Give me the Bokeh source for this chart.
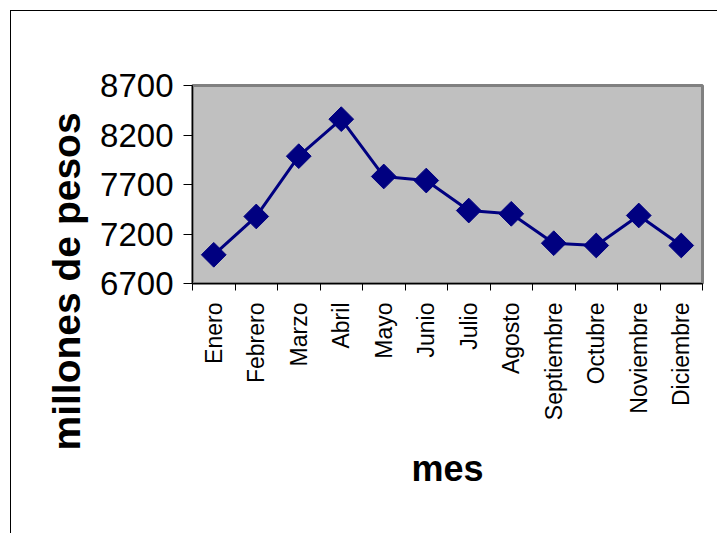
import math
from bokeh.plotting import figure
from bokeh.models import (Range1d, FixedTicker, Title, CustomJSTickFormatter,
                          InlineStyleSheet)
from bokeh.embed import file_html
from bokeh.resources import INLINE

meses = ["Enero", "Febrero", "Marzo", "Abril", "Mayo", "Junio", "Julio",
         "Agosto", "Septiembre", "Octubre", "Noviembre", "Diciembre"]
valores = [6990, 7377, 7986, 8360, 7781, 7740, 7437, 7404, 7107, 7084, 7387, 7084]
y_ticks = [6700, 7200, 7700, 8200, 8700]
titulo_x = "mes"
titulo_y = "millones de pesos"

x = [i + 0.5 for i in range(len(meses))]

p = figure(width=709, height=525, output_backend="svg", toolbar_location=None,
           x_range=Range1d(0, len(meses)), y_range=Range1d(y_ticks[0], y_ticks[-1]),
           min_border_left=192, min_border_right=7, min_border_top=85,
           min_border_bottom=242)

p.background_fill_color = "#C0C0C0"
p.border_fill_alpha = 0
p.outline_line_color = "#808080"
p.outline_line_width = 3
p.xgrid.visible = False
p.ygrid.visible = False
css = """
:host { background: white; box-shadow: inset 10px 10px 0 0 white, inset 11px 11px 0 0 black; }
:host::after { content: ""; position: fixed; left: 10px; top: 10px; right: 0; bottom: 0;
  border-left: 1px solid black; border-top: 1px solid black; pointer-events: none; }
"""
p.stylesheets = [InlineStyleSheet(css=css)]

# y axis
p.yaxis.ticker = FixedTicker(ticks=y_ticks)
p.yaxis.major_tick_out = 9
p.yaxis.major_tick_in = 0
p.yaxis.minor_tick_out = 0
p.yaxis.axis_line_color = "black"
p.yaxis.major_tick_line_color = "black"
p.yaxis.major_label_standoff = 10
p.yaxis.major_label_text_font = "Liberation Sans"
p.yaxis.major_label_text_font_size = "33px"
p.yaxis.major_label_text_color = "black"

# x axis
p.xaxis.ticker = FixedTicker(ticks=x, minor_ticks=list(range(len(meses) + 1)))
p.xaxis.formatter = CustomJSTickFormatter(args=dict(labels=meses),
                                          code="return labels[Math.floor(tick)];")
p.xaxis.major_tick_out = 0
p.xaxis.major_tick_in = 0
p.xaxis.minor_tick_out = 7
p.xaxis.minor_tick_in = 0
p.xaxis.minor_tick_line_color = "black"
p.xaxis.axis_line_color = "black"
p.xaxis.major_label_orientation = math.pi / 2
p.xaxis.major_label_standoff = 12
p.xaxis.major_label_text_font = "Liberation Sans"
p.xaxis.major_label_text_font_size = "23px"
p.xaxis.major_label_text_color = "black"
p.xaxis.axis_label = titulo_x
p.xaxis.axis_label_text_font = "Liberation Sans"
p.xaxis.axis_label_text_font_style = "bold"
p.xaxis.axis_label_text_font_size = "36px"
p.xaxis.axis_label_text_color = "black"
p.xaxis.axis_label_standoff = 25

p.line(x, valores, line_color="#000080", line_width=3)
p.scatter(x, valores, marker="square", angle=math.pi / 4, size=17.5,
          fill_color="#000080", line_color="#000080")

p.add_layout(Title(text=titulo_y, align="left", offset=-167, standoff=20,
                   text_font="Liberation Sans", text_font_style="bold",
                   text_font_size="39px", text_color="black"), "left")

open("out.html", "w").write(file_html(p, INLINE))
